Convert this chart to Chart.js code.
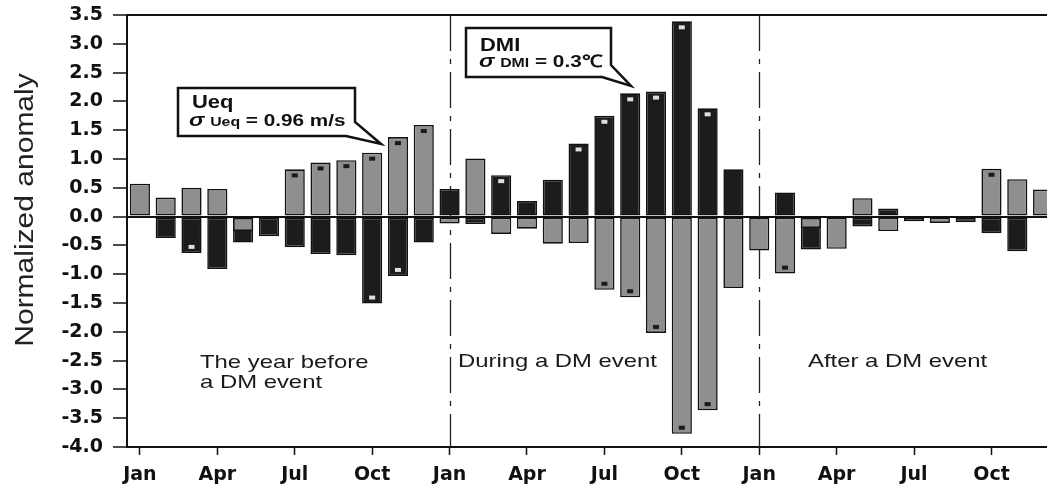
<!DOCTYPE html>
<html>
<head>
<meta charset="utf-8">
<script src="https://cdn.jsdelivr.net/npm/chart.js@4.4.1/dist/chart.umd.min.js"></script>
<style>
    html, body { margin: 0; padding: 0; background: #fff; overflow: hidden; }
    #wrap { position: relative; width: 1062px; height: 484px; }
</style>
</head>
<body>
<div id="wrap"><canvas id="grafica"></canvas></div>
<script>
// month names used for the category axis
const meses = ['Jan', 'Feb', 'Mar', 'Apr', 'May', 'Jun', 'Jul', 'Aug', 'Sep', 'Oct', 'Nov', 'Dec'];
// 3 years: before, during, after a DM event
const categorias = [...meses, ...meses, ...meses];

// normalized anomalies
const ueq = [0.57, 0.33, 0.50, 0.48, -0.25, 0.00, 0.82, 0.94, 0.98, 1.11, 1.38, 1.59,
             -0.12, 1.01, -0.30, -0.21, -0.47, -0.46, -1.27, -1.40, -2.02, -3.77, -3.36, -1.24,
             -0.59, -0.99, -0.20, -0.56, 0.32, -0.25, -0.08, -0.11, 0.00, 0.83, 0.65, 0.47];
const dmi = [0.00, -0.37, -0.63, -0.91, -0.45, -0.34, -0.53, -0.65, -0.67, -1.51, -1.03, -0.45,
             0.48, -0.13, 0.72, 0.27, 0.64, 1.27, 1.75, 2.14, 2.17, 3.39, 1.88, 0.82,
             0.00, 0.42, -0.57, 0.00, -0.17, 0.14, 0.00, 0.00, -0.10, -0.29, -0.60, 0.00];

// months flagged with the small significance square
const sigUeq = [6, 7, 8, 9, 10, 11, 18, 19, 20, 21, 22, 25, 33];
const sigDmi = [2, 9, 10, 14, 17, 18, 19, 20, 21, 22];

// y ticks
const yMin = -4.0;
const yMax = 3.5;
const yStep = 0.5;

// period separators (category index) and period titles
const separadores = [12, 24];
const periodos = [
    { lines: ['The year before', 'a DM event'], x: 200, y: 368 },
    { lines: ['During a DM event'], x: 458, y: 367 },
    { lines: ['After a DM event'], x: 808, y: 367 }
];

const GRIS = '#8f8f8f';
const NEGRO = '#1c1c1c';
const BORDE = '#111';

function textoEstirado(ctx, x, y, partes, sx) {
    ctx.save();
    ctx.translate(x, y);
    ctx.scale(sx, 1);
    let cx = 0;
    partes.forEach(p => {
        ctx.font = p.font;
        ctx.fillText(p.text, cx, 0);
        cx += ctx.measureText(p.text).width;
    });
    ctx.restore();
}

function cajaFlecha(ctx, pts) {
    ctx.save();
    ctx.beginPath();
    ctx.moveTo(pts[0][0], pts[0][1]);
    pts.slice(1).forEach(p => ctx.lineTo(p[0], p[1]));
    ctx.closePath();
    ctx.fillStyle = '#fff';
    ctx.fill();
    ctx.lineWidth = 2.5;
    ctx.strokeStyle = '#111';
    ctx.lineJoin = 'miter';
    ctx.stroke();
    ctx.restore();
}

const extras = {
    id: 'extras',
    beforeDatasetsDraw(chart) {
        const ctx = chart.ctx;
        const area = chart.chartArea;
        const xs = chart.scales.x;
        // dash-dot separators
        ctx.save();
        ctx.strokeStyle = '#222';
        ctx.lineWidth = 1.3;
        ctx.setLineDash([36, 8, 5, 8]);
        separadores.forEach(i => {
            const x = Math.round(xs.getPixelForValue(i)) + 0.5;
            ctx.beginPath();
            ctx.moveTo(x, area.top);
            ctx.lineTo(x, area.bottom);
            ctx.stroke();
        });
        ctx.restore();
    },
    afterDatasetsDraw(chart) {
        const ctx = chart.ctx;
        const area = chart.chartArea;

        // significance squares
        const marcar = (dsIndex, lista, valores, color) => {
            const meta = chart.getDatasetMeta(dsIndex);
            lista.forEach(i => {
                const bar = meta.data[i];
                const dir = valores[i] >= 0 ? 1 : -1;
                const cy = bar.y + dir * 6;
                ctx.fillStyle = color;
                ctx.fillRect(bar.x - 3, cy - 2, 6, 4);
            });
        };
        ctx.save();
        marcar(0, sigUeq, ueq, '#1a1a1a');
        marcar(1, sigDmi, dmi, '#dedede');
        ctx.restore();

        // top frame line
        ctx.save();
        ctx.strokeStyle = '#111';
        ctx.lineWidth = 2;
        ctx.beginPath();
        ctx.moveTo(area.left, area.top);
        ctx.lineTo(area.right, area.top);
        ctx.stroke();
        ctx.restore();

        // period titles
        ctx.save();
        ctx.fillStyle = '#1a1a1a';
        ctx.textBaseline = 'alphabetic';
        periodos.forEach(p => {
            p.lines.forEach((t, k) => {
                textoEstirado(ctx, p.x, p.y + k * 20, [{ text: t, font: '18.5px "Liberation Sans", Arial, sans-serif' }], 1.29);
            });
        });
        ctx.restore();

        // callout boxes
        cajaFlecha(ctx, [[178, 88], [355, 88], [355, 122], [381, 144], [346, 136], [178, 136]]);
        cajaFlecha(ctx, [[466, 28], [611, 28], [611, 65], [631, 86], [602, 77], [466, 77]]);

        ctx.save();
        ctx.fillStyle = '#111';
        ctx.textBaseline = 'alphabetic';
        const sans = '"Liberation Sans", Arial, sans-serif';
        textoEstirado(ctx, 192, 108, [{ text: 'Ueq', font: 'bold 18px ' + sans }], 1.22);
        textoEstirado(ctx, 189, 126, [
            { text: 'σ', font: 'italic bold 19px ' + sans },
            { text: ' ', font: 'bold 17px ' + sans },
            { text: 'Ueq', font: 'bold 13px ' + sans },
            { text: ' = 0.96 m/s', font: 'bold 17px ' + sans }
        ], 1.22);
        textoEstirado(ctx, 480, 51, [{ text: 'DMI', font: 'bold 18px ' + sans }], 1.22);
        textoEstirado(ctx, 479, 67, [
            { text: 'σ', font: 'italic bold 19px ' + sans },
            { text: ' ', font: 'bold 17px ' + sans },
            { text: 'DMI', font: 'bold 13px ' + sans },
            { text: ' = 0.3℃', font: 'bold 17px ' + sans }
        ], 1.22);
        ctx.restore();

        // y axis title
        ctx.save();
        ctx.translate(33, 210);
        ctx.rotate(-Math.PI / 2);
        ctx.scale(1.2, 1);
        ctx.font = '25px "Liberation Sans", Arial, sans-serif';
        ctx.fillStyle = '#222';
        ctx.textAlign = 'center';
        ctx.textBaseline = 'alphabetic';
        ctx.fillText('Normalized anomaly', 0, 0);
        ctx.restore();
    }
};

const grafica = document.querySelector('#grafica');

new Chart(grafica, {
    type: 'bar',
    data: {
        labels: categorias,
        datasets: [
            {
                label: 'Ueq',
                data: ueq,
                backgroundColor: GRIS,
                borderColor: BORDE,
                borderWidth: 1.6,
                borderSkipped: false,
                grouped: false,
                categoryPercentage: 1,
                barPercentage: 0.78
            },
            {
                label: 'DMI',
                data: dmi,
                backgroundColor: NEGRO,
                borderColor: BORDE,
                borderWidth: 1.6,
                borderSkipped: false,
                grouped: false,
                categoryPercentage: 1,
                barPercentage: 0.78
            }
        ]
    },
    options: {
        responsive: true,
        maintainAspectRatio: false,
        animation: false,
        layout: { padding: { top: 15, right: 6, left: 0, bottom: 0 } },
        scales: {
            x: {
                afterFit(scale) {
                    scale.height = 37;
                    scale.paddingLeft = 0;
                    scale.paddingRight = 0;
                },
                grid: {
                    offset: false,
                    drawOnChartArea: false,
                    tickLength: 8,
                    tickColor: '#111',
                    tickWidth: 1.5
                },
                border: { display: true, color: '#111', width: 2 },
                ticks: {
                    autoSkip: false,
                    maxRotation: 0,
                    padding: 9,
                    color: '#111',
                    font: { family: '"DejaVu Sans", sans-serif', size: 19, weight: 'bold' },
                    callback: (valor, i) => (i % 3 === 0 ? categorias[i] : null)
                }
            },
            y: {
                min: yMin,
                max: yMax,
                afterFit(scale) {
                    scale.width = 127;
                    scale.paddingTop = 0;
                    scale.paddingBottom = 0;
                },
                grid: {
                    color: c => (c.tick && c.tick.value === 0 ? '#111' : 'rgba(0,0,0,0)'),
                    lineWidth: 2,
                    tickLength: 14,
                    tickColor: '#111',
                    tickWidth: 1.5
                },
                border: { display: true, color: '#111', width: 2 },
                ticks: {
                    stepSize: yStep,
                    padding: 10,
                    color: '#111',
                    font: { family: '"DejaVu Sans", sans-serif', size: 19, weight: 'bold' },
                    callback: v => v.toFixed(1)
                }
            }
        },
        plugins: {
            legend: { display: false },
            tooltip: { enabled: false }
        }
    },
    plugins: [extras]
});
</script>
</body>
</html>
